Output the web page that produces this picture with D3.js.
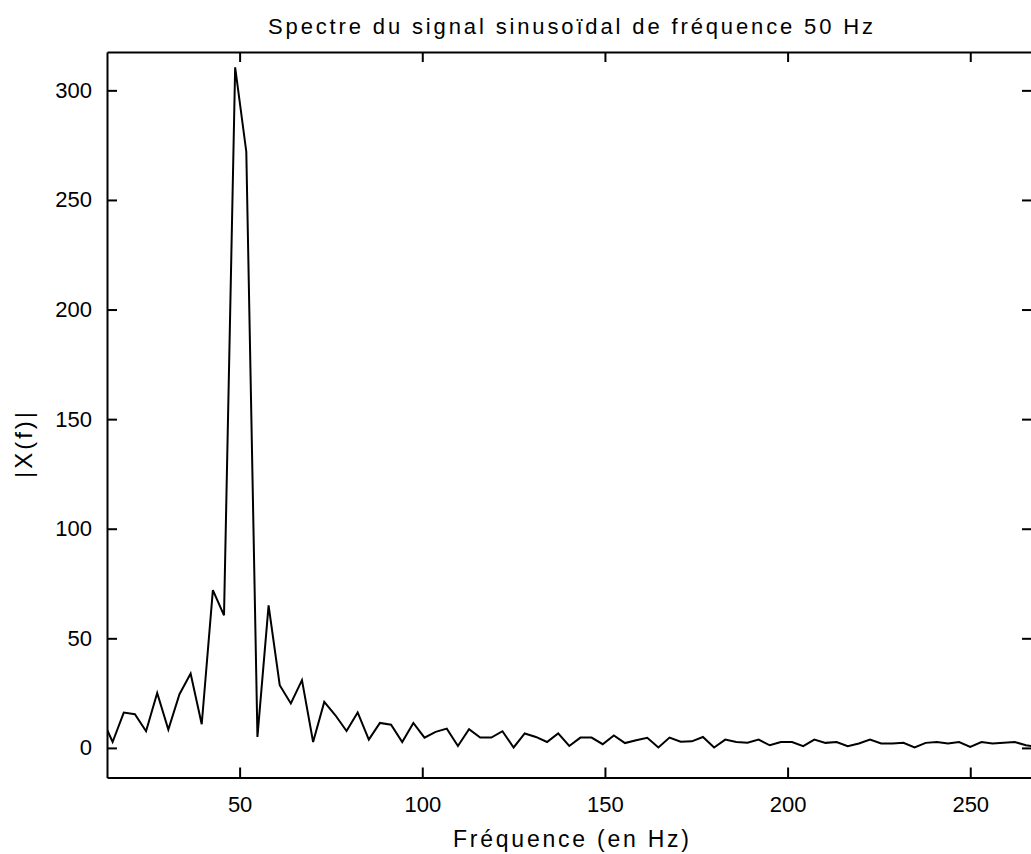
<!DOCTYPE html>
<html>
<head>
<meta charset="utf-8">
<script src="https://cdn.jsdelivr.net/npm/d3@7"></script>
<style>
  html, body { margin: 0; padding: 0; background: #fff; }
  svg { display: block; }
  text { font-family: "Liberation Sans", Arial, Helvetica, sans-serif; fill: #000; }
</style>
</head>
<body>
<svg id="chart" width="1031" height="854"></svg>
<script>
// ---- data ----
const freqs = [12.20, 15.24, 18.29, 21.34, 24.39, 27.44, 30.49, 33.54, 36.59, 39.63,
  42.68, 45.73, 48.78, 51.83, 54.88, 57.93, 60.98, 64.02, 67.07, 70.12,
  73.17, 76.22, 79.27, 82.32, 85.37, 88.41, 91.46, 94.51, 97.56, 100.61,
  103.66, 106.71, 109.76, 112.80, 115.85, 118.90, 121.95, 125.00, 128.05, 131.10,
  134.15, 137.20, 140.24, 143.29, 146.34, 149.39, 152.44, 155.49, 158.54, 161.59,
  164.63, 167.68, 170.73, 173.78, 176.83, 179.88, 182.93, 185.98, 189.02, 192.07,
  195.12, 198.17, 201.22, 204.27, 207.32, 210.37, 213.41, 216.46, 219.51, 222.56,
  225.61, 228.66, 231.71, 234.76, 237.80, 240.85, 243.90, 246.95, 250.00, 253.05,
  256.10, 259.15, 262.20, 265.24, 268.29];
const magnitudes = [14, 2.7, 16.1, 15.4, 7.6, 25.1, 8.4, 24.5, 33.9, 10.8,
  72, 60.5, 310.5, 272, 5.0, 65, 28.6, 20.3, 30.9, 2.7,
  21.0, 14.9, 7.7, 16.2, 3.8, 11.4, 10.6, 2.7, 11.4, 4.7,
  7.3, 8.8, 0.9, 8.5, 4.7, 4.7, 7.6, 0.2, 6.6, 5.0,
  2.7, 6.6, 0.9, 4.7, 4.7, 1.7, 5.7, 2.2, 3.5, 4.6,
  0.2, 4.7, 2.8, 3.0, 5.0, 0.2, 3.8, 2.7, 2.4, 3.8,
  1.2, 2.7, 2.7, 0.8, 3.8, 2.3, 2.7, 0.8, 2.0, 3.8,
  2.0, 2.0, 2.3, 0.2, 2.3, 2.7, 2.0, 2.7, 0.5, 2.7,
  2.0, 2.3, 2.7, 1.2, 0.5];
const xTicks = [50, 100, 150, 200, 250];
const yTicks = [0, 50, 100, 150, 200, 250, 300];
const titleText = "Spectre du signal sinusoïdal de fréquence 50 Hz";
const xLabelText = "Fréquence (en Hz)";
const yLabelText = "|X(f)|";

// ---- layout ----
const pL = 107, pR = 1032, pT = 52, pB = 777.5;
const svg = d3.select("#chart");
svg.append("rect").attr("width", 1031).attr("height", 854).attr("fill", "#fff");

const x = d3.scaleLinear().domain([13.7, 266.9]).range([pL, pR]);
const y = d3.scaleLinear().domain([-13.5, 317.5]).range([pB, pT]);

svg.append("clipPath").attr("id", "clip")
  .append("rect").attr("x", pL).attr("y", pT)
  .attr("width", pR - pL).attr("height", pB - pT);

const data = freqs.map((f, i) => ({ f, v: magnitudes[i] }));
const line = d3.line().x(d => x(d.f)).y(d => y(d.v));

svg.append("path")
  .datum(data)
  .attr("clip-path", "url(#clip)")
  .attr("fill", "none")
  .attr("stroke", "#000")
  .attr("stroke-width", 2)
  .attr("stroke-linejoin", "miter")
  .attr("d", line);

const fontSize = 22;
function styleAxis(g) {
  g.select(".domain").attr("stroke", "#000").attr("stroke-width", 2);
  g.selectAll(".tick line").attr("stroke", "#000").attr("stroke-width", 2);
  g.selectAll(".tick text").attr("font-size", fontSize)
    .attr("font-family", "'Liberation Sans', Arial, sans-serif")
    .attr("fill", "#000");
}

// bottom
svg.append("g").attr("transform", `translate(0,${pB})`)
  .call(d3.axisBottom(x).tickValues(xTicks).tickSizeInner(-10).tickSizeOuter(0).tickPadding(19).tickFormat(d3.format("d")))
  .call(styleAxis);
// top
svg.append("g").attr("transform", `translate(0,${pT})`)
  .call(d3.axisTop(x).tickValues(xTicks).tickSizeInner(-10).tickSizeOuter(0).tickFormat(""))
  .call(styleAxis);
// left
svg.append("g").attr("transform", `translate(${pL},0)`)
  .call(d3.axisLeft(y).tickValues(yTicks).tickSizeInner(-10).tickSizeOuter(0).tickPadding(15).tickFormat(d3.format("d")))
  .call(styleAxis);
// right
svg.append("g").attr("transform", `translate(${pR},0)`)
  .call(d3.axisRight(y).tickValues(yTicks).tickSizeInner(-10).tickSizeOuter(0).tickFormat(""))
  .call(styleAxis);

// title
svg.append("text")
  .attr("x", 570.5).attr("y", 34)
  .attr("text-anchor", "middle")
  .attr("font-size", fontSize)
  .attr("textLength", 605).attr("lengthAdjust", "spacing")
  .text(titleText);

// x label
svg.append("text")
  .attr("x", 571).attr("y", 847)
  .attr("text-anchor", "middle")
  .attr("font-size", fontSize + 1)
  .attr("textLength", 236).attr("lengthAdjust", "spacing")
  .text(xLabelText);

// y label
svg.append("text")
  .attr("transform", "translate(32,445) rotate(-90)")
  .attr("text-anchor", "middle")
  .attr("font-size", fontSize + 2)
  .attr("textLength", 66).attr("lengthAdjust", "spacing")
  .text(yLabelText);
</script>
</body>
</html>
